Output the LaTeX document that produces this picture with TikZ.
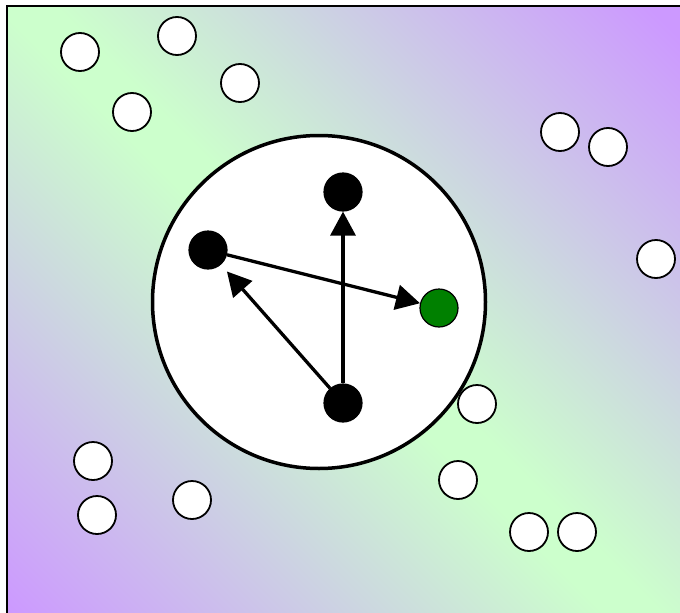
\documentclass[tikz,border=0pt]{standalone}
\usetikzlibrary{arrows.meta}
\definecolor{bggreen}{RGB}{204,255,204}
\definecolor{bgpurple}{RGB}{204,153,255}
\definecolor{goalgreen}{RGB}{0,128,0}
\pgfdeclarehorizontalshading{fieldshade}{100bp}{color(0bp)=(bgpurple); color(28bp)=(bgpurple); color(49bp)=(bggreen); color(51bp)=(bggreen); color(72bp)=(bgpurple); color(100bp)=(bgpurple)}

\begin{document}
\begin{tikzpicture}[
    x=1pt, y=-1pt,
    >={Triangle[length=24pt 0, width=25pt 0]},
    free/.style={circle, draw, line width=1.8pt, fill=white, minimum size=38pt, inner sep=0pt},
    agent/.style={circle, draw, line width=1.2pt, fill=black, minimum size=38pt, inner sep=0pt},
    goal/.style={agent, fill=goalgreen},
    zone/.style={circle, draw, line width=3.5pt, fill=white, minimum size=333pt, inner sep=0pt},
    arrow/.style={->, line width=3.3pt}
]
\useasboundingbox (0,0) rectangle (680,613);

% Background field
\begin{scope}
    \clip (7,6) rectangle (686,619);
    \shade[shading=fieldshade, transform canvas={shift={(350,330)}, rotate=45}] (-500,-500) rectangle (500,500);
\end{scope}
\draw[line width=1.8pt] (7,6) rectangle (686,619);

% Neighbourhood
\node[zone] (range) at (319,302) {};

% Particles outside
\foreach \px/\py [count=\i] in {80/52, 177/36, 240/83, 132/112, 560/132, 608/147, 656/259,
    93/461, 97/515, 192/500, 477/404, 458/480, 529/532, 577/532}
    \node[free] (other\i) at (\px,\py) {};

% Agents
\node[agent] (agent_top) at (343,192) {};
\node[agent] (agent_left) at (208,250) {};
\node[agent] (agent_bottom) at (343,403) {};
\node[goal] (target) at (439,308) {};

\draw[arrow] (agent_bottom) -- (agent_top);
\draw[arrow, shorten >=9pt] (agent_bottom) -- (agent_left);
\draw[arrow] (agent_left) -- (target);

\end{tikzpicture}
\end{document}
